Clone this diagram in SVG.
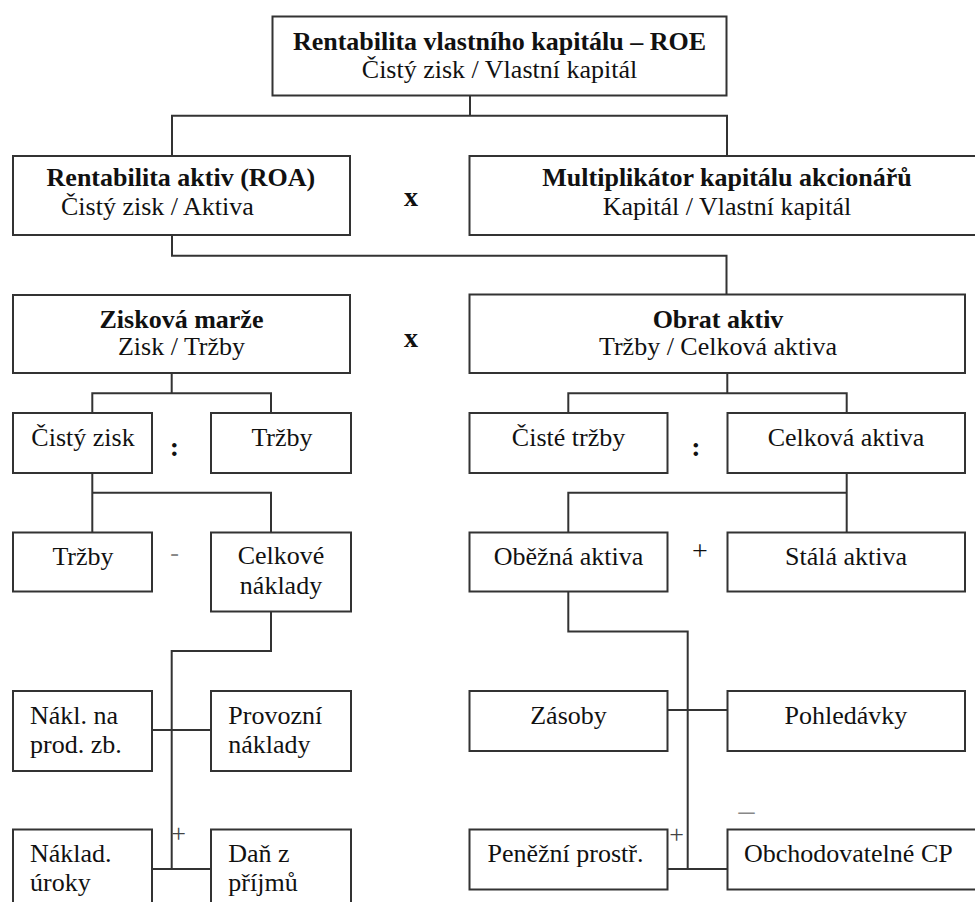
<svg xmlns="http://www.w3.org/2000/svg" width="975" height="902" viewBox="0 0 975 902">
<style>
.box{fill:#fff;stroke:#333;stroke-width:2}
.ln{fill:none;stroke:#333;stroke-width:2}
text{font-family:"Liberation Serif","Times New Roman",serif;font-size:26px;fill:#111}
.b{font-weight:bold}
.m{text-anchor:middle}
.op{font-weight:bold;font-size:28px}
.g{fill:#888}
.thin{font-size:26px;fill:#444}
</style>
<rect width="975" height="902" fill="#fff"/>
<g id="connectors">
<path class="ln" d="M470,95.5 V115.7 M172,156 V115.7 H727 V156"/>
<path class="ln" d="M172,235 V255.7 H726.5 V294.5"/>
<path class="ln" d="M171.7,373 V393.3 M92.3,413 V393.3 H271 V413"/>
<path class="ln" d="M727.3,373 V393.3 M568.3,413 V393.3 H846.7 V413"/>
<path class="ln" d="M92.3,473 V532.5 M92.3,492.7 H271 V532.5"/>
<path class="ln" d="M846.7,473 V532.5 M846.7,492.7 H568.3 V532.5"/>
<path class="ln" d="M271,611.7 V651 H171.7 V869"/>
<path class="ln" d="M152.3,730 H211 M152.3,869 H211"/>
<path class="ln" d="M568.3,591.7 V631.5 H687.7 V869"/>
<path class="ln" d="M667.7,710 H727.3 M667.7,869 H727.3"/>
</g>
<g id="roe">
<rect class="box" x="272.5" y="16.5" width="454" height="79"/>
<text class="b m" x="499.5" y="50">Rentabilita vlastního kapitálu – ROE</text>
<text class="m" x="499.5" y="78">Čistý zisk / Vlastní kapitál</text>
</g>
<g id="roa">
<rect class="box" x="13" y="156" width="337" height="79"/>
<text class="b" x="46.6" y="186">Rentabilita aktiv (ROA)</text>
<text x="61" y="215">Čistý zisk / Aktiva</text>
</g>
<text class="op m" x="411" y="206">x</text>
<g id="multiplikator">
<rect class="box" x="469.5" y="156" width="520" height="79"/>
<text class="b m" x="727" y="186">Multiplikátor kapitálu akcionářů</text>
<text class="m" x="727" y="215">Kapitál / Vlastní kapitál</text>
</g>
<g id="marze">
<rect class="box" x="13" y="295" width="337" height="78"/>
<text class="b m" x="181.5" y="328">Zisková marže</text>
<text class="m" x="181.5" y="355">Zisk / Tržby</text>
</g>
<text class="op m" x="411" y="347">x</text>
<g id="obrat">
<rect class="box" x="469.5" y="294.5" width="495.5" height="78.5"/>
<text class="b m" x="718" y="328">Obrat aktiv</text>
<text class="m" x="718" y="355">Tržby / Celková aktiva</text>
</g>
<g id="cisty-zisk">
<rect class="box" x="13" y="413" width="139" height="60"/>
<text class="m" x="83" y="446">Čistý zisk</text>
</g>
<text class="op m" x="174.5" y="456">:</text>
<g id="trzby1">
<rect class="box" x="211" y="413" width="140" height="60"/>
<text class="m" x="282" y="446">Tržby</text>
</g>
<g id="ciste-trzby">
<rect class="box" x="469.5" y="413" width="198" height="60"/>
<text class="m" x="568.5" y="446">Čisté tržby</text>
</g>
<text class="op m" x="696" y="456">:</text>
<g id="celkova-aktiva">
<rect class="box" x="727.5" y="413" width="237.5" height="60"/>
<text class="m" x="846" y="446">Celková aktiva</text>
</g>
<g id="trzby2">
<rect class="box" x="13" y="532.5" width="139" height="59"/>
<text class="m" x="83" y="565">Tržby</text>
</g>
<text class="m g" x="174.5" y="561">-</text>
<g id="celkove-naklady">
<rect class="box" x="211" y="532.5" width="140" height="79"/>
<text class="m" x="281" y="564">Celkové</text>
<text class="m" x="281" y="594">náklady</text>
</g>
<g id="obezna-aktiva">
<rect class="box" x="469.5" y="532.5" width="198" height="59"/>
<text class="m" x="568.5" y="565">Oběžná aktiva</text>
</g>
<text class="m" x="700" y="560" style="font-size:28px">+</text>
<g id="stala-aktiva">
<rect class="box" x="727.5" y="532.5" width="237.5" height="59"/>
<text class="m" x="846" y="565">Stálá aktiva</text>
</g>
<g id="nakl-prod">
<rect class="box" x="13" y="691" width="139" height="80"/>
<text x="30" y="724">Nákl. na</text>
<text x="30" y="753">prod. zb.</text>
</g>
<g id="provozni-naklady">
<rect class="box" x="211" y="691" width="140" height="80"/>
<text x="228.3" y="724">Provozní</text>
<text x="228.3" y="753">náklady</text>
</g>
<g id="zasoby">
<rect class="box" x="469.5" y="691" width="198" height="60"/>
<text class="m" x="568.5" y="724">Zásoby</text>
</g>
<g id="pohledavky">
<rect class="box" x="727.5" y="691" width="237.5" height="60"/>
<text class="m" x="846" y="724">Pohledávky</text>
</g>
<g id="naklad-uroky">
<rect class="box" x="13" y="829.5" width="139" height="85"/>
<text x="30" y="862">Náklad.</text>
<text x="30" y="891">úroky</text>
</g>
<text class="m thin" x="178.5" y="842">+</text>
<g id="dan-z-prijmu">
<rect class="box" x="211" y="829.5" width="140" height="85"/>
<text x="228.3" y="862">Daň z</text>
<text x="228.3" y="891">příjmů</text>
</g>
<g id="penezni-prostr">
<rect class="box" x="469.5" y="829.5" width="198" height="60"/>
<text class="m" x="565.5" y="862">Peněžní prostř.</text>
</g>
<text class="m thin" x="676.7" y="843">+</text>
<text class="m g" x="746.5" y="821" style="font-size:32px">–</text>
<g id="obchodovatelne-cp">
<rect class="box" x="727.5" y="829.5" width="260" height="60"/>
<text x="744" y="862">Obchodovatelné CP</text>
</g>
</svg>
